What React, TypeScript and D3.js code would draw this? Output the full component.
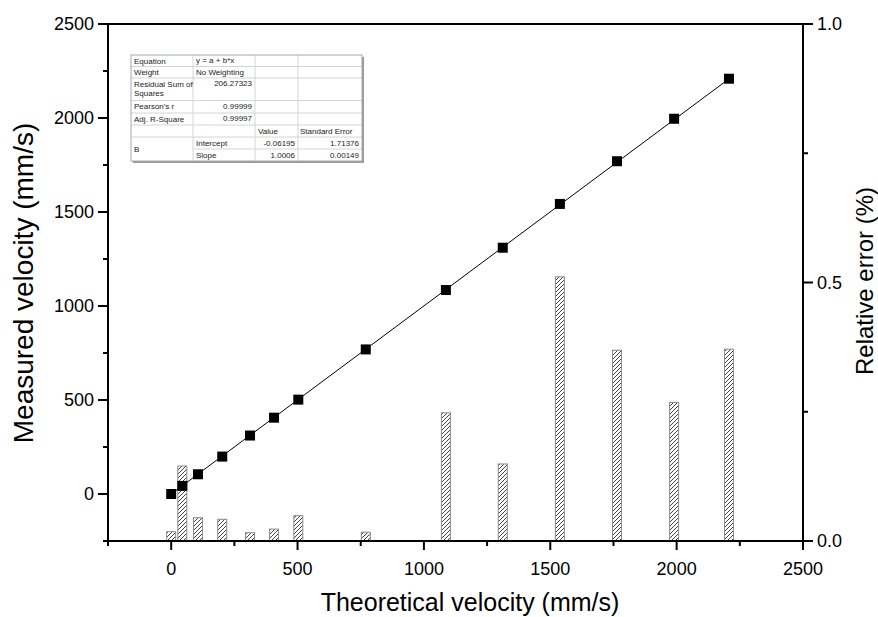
import React from 'react';
import * as d3 from 'd3';

// theoretical velocity (mm/s), measured velocity (mm/s), relative error (%)
const theoretical = [0, 44, 106, 202, 312, 407, 503, 770, 1087, 1312, 1538, 1764, 1990, 2207];
const measured = [0, 43, 105, 199, 311, 406, 502, 769, 1085, 1310, 1543, 1770, 1996, 2209];
const relError = [0.018, 0.145, 0.045, 0.042, 0.016, 0.023, 0.049, 0.017, 0.248, 0.149, 0.511, 0.369, 0.268, 0.371];

// linear fit y = a + b*x
const fitA = -0.06195;
const fitB = 1.0006;

const xTicks = [0, 500, 1000, 1500, 2000, 2500];
const yTicks = [0, 500, 1000, 1500, 2000, 2500];
const rTicks = [0, 0.5, 1.0];

// fit report table
const statRows = [
  ['Equation', 'y = a + b*x'],
  ['Weight', 'No Weighting'],
  ['Residual Sum of|Squares', '206.27323'],
  ["Pearson's r", '0.99999'],
  ['Adj. R-Square', '0.99997'],
];
const paramHeader = ['Value', 'Standard Error'];
const paramRows = [
  ['Intercept', '-0.06195', '1.71376'],
  ['Slope', '1.0006', '0.00149'],
];

const W = 878, H = 617;
const plot = { left: 108, right: 803, top: 24, bottom: 541 };

const x = d3.scaleLinear().domain([-250, 2500]).range([plot.left, plot.right]);
const y = d3.scaleLinear().domain([-250, 2500]).range([plot.bottom, plot.top]);
const yR = d3.scaleLinear().domain([0, 1]).range([plot.bottom, plot.top]);

const font = 'Liberation Sans, Arial, sans-serif';

const FitTable = () => {
  const cols = [131, 193, 255, 298, 362];
  const rows = [55, 66.5, 78, 100.5, 113, 125, 137, 149, 161];
  const fs = 8;
  const txt = '#222';
  const grid = '#d4d4d4';
  const cells: React.ReactNode[] = [];
  statRows.forEach((r, i) => {
    const top = rows[i];
    const lines = r[0].split('|');
    lines.forEach((l, j) => {
      cells.push(<text key={`l${i}${j}`} x={cols[0] + 3} y={top + 8.5 + j * 9.5} fontSize={fs} fill={txt}>{l}</text>);
    });
    const isNum = i >= 2;
    cells.push(<text key={`v${i}`} x={isNum ? cols[2] - 3 : cols[1] + 3} y={top + 8} fontSize={fs} fill={txt}
      textAnchor={isNum ? 'end' : 'start'}>{r[1]}</text>);
  });
  cells.push(<text key='h0' x={cols[2] + 3} y={rows[5] + 9} fontSize={fs} fill={txt}>{paramHeader[0]}</text>);
  cells.push(<text key='h1' x={cols[3] + 2} y={rows[5] + 9} fontSize={fs} fill={txt}>{paramHeader[1]}</text>);
  cells.push(<text key='b' x={cols[0] + 3} y={rows[7] + 3} fontSize={fs} fill={txt}>B</text>);
  paramRows.forEach((r, i) => {
    const top = rows[6 + i];
    cells.push(<text key={`p${i}`} x={cols[1] + 3} y={top + 9} fontSize={fs} fill={txt}>{r[0]}</text>);
    cells.push(<text key={`pv${i}`} x={cols[3] - 3} y={top + 9} fontSize={fs} fill={txt} textAnchor='end'>{r[1]}</text>);
    cells.push(<text key={`pe${i}`} x={cols[4] - 3} y={top + 9} fontSize={fs} fill={txt} textAnchor='end'>{r[2]}</text>);
  });
  const left = cols[0], right = cols[4], top = rows[0], bottom = rows[rows.length - 1];
  return <g fontFamily={font}>
    {/* shadow */}
    <rect x={left + 2} y={top + 2} width={right - left} height={bottom - top} fill='#9a9a9a' />
    <rect x={left} y={top} width={right - left} height={bottom - top} fill='#fff' />
    {rows.slice(1, -1).map((ry, i) => {
      // no line between Intercept and Slope in the first column
      const x1 = i === 6 ? cols[1] : left;
      return <line key={`r${i}`} x1={x1} x2={right} y1={ry} y2={ry} stroke={grid} strokeWidth={1} />;
    })}
    {cols.slice(1, -1).map((cx, i) =>
      <line key={`c${i}`} x1={cx} x2={cx} y1={top} y2={bottom} stroke={grid} strokeWidth={1} />)}
    <rect x={left} y={top} width={right - left} height={bottom - top} fill='none' stroke='#a8a8a8' strokeWidth={1} />
    {cells}
  </g>;
};

const App = () => {
  const barW = 9;
  const minorX = d3.range(-250, 2501, 250).filter(v => !xTicks.includes(v));
  const minorY = d3.range(-250, 2501, 250).filter(v => !yTicks.includes(v));
  const minorR = [0.25, 0.75];
  const xMin = d3.min(theoretical) as number, xMax = d3.max(theoretical) as number;
  const fitLine = d3.line<number>().x(v => x(v)).y(v => y(fitA + fitB * v));

  return <svg width={W} height={H} style={{ position: 'absolute', left: 0, top: 0, background: '#fff' }}>
    <defs>
      <pattern id='hatch' patternUnits='userSpaceOnUse' width={4} height={4}>
        <rect width={4} height={4} fill='#fff' />
        <path d='M-1,1 l2,-2 M0,4 l4,-4 M3,5 l2,-2' stroke='#111' strokeWidth={0.8} />
      </pattern>
    </defs>

    {/* relative error bars */}
    <g>
      {relError.map((e, i) => (
        <rect key={i} x={x(theoretical[i]) - barW / 2} y={yR(e)} width={barW} height={yR(0) - yR(e)}
          fill='url(#hatch)' stroke='#8a8a8a' strokeWidth={1} />
      ))}
    </g>

    {/* fit line */}
    <path d={fitLine([xMin, xMax]) || ''} stroke='#000' strokeWidth={1} fill='none' />

    {/* measured points */}
    <g>
      {theoretical.map((t, i) => (
        <rect key={i} x={x(t) - 5} y={y(measured[i]) - 5} width={10} height={10} fill='#000' />
      ))}
    </g>

    <FitTable />

    {/* axes frame */}
    <g stroke='#000' strokeWidth={2}>
      <line x1={plot.left} x2={plot.right} y1={plot.bottom} y2={plot.bottom} />
      <line x1={plot.left} x2={plot.right} y1={plot.top} y2={plot.top} />
      <line x1={plot.left} x2={plot.left} y1={plot.top} y2={plot.bottom} />
      <line x1={plot.right} x2={plot.right} y1={plot.top} y2={plot.bottom} />
    </g>

    {/* x axis */}
    <g fontFamily={font} fontSize={18}>
      {xTicks.map(v => <g key={v}>
        <line x1={x(v)} x2={x(v)} y1={plot.bottom} y2={plot.bottom + 9} stroke='#000' strokeWidth={2} />
        <text x={x(v)} y={plot.bottom + 34} textAnchor='middle' fill='#000'>{v}</text>
      </g>)}
      {minorX.map(v => <line key={v} x1={x(v)} x2={x(v)} y1={plot.bottom} y2={plot.bottom + 5} stroke='#000' strokeWidth={2} />)}
    </g>

    {/* left y axis */}
    <g fontFamily={font} fontSize={18}>
      {yTicks.map(v => <g key={v}>
        <line x1={plot.left - 10} x2={plot.left} y1={y(v)} y2={y(v)} stroke='#000' strokeWidth={2} />
        <text x={plot.left - 14} y={y(v)} dy='0.35em' textAnchor='end' fill='#000'>{v}</text>
      </g>)}
      {minorY.map(v => <line key={v} x1={plot.left - 5} x2={plot.left} y1={y(v)} y2={y(v)} stroke='#000' strokeWidth={2} />)}
    </g>

    {/* right y axis */}
    <g fontFamily={font} fontSize={18}>
      {rTicks.map(v => <g key={v}>
        <line x1={plot.right} x2={plot.right + 10} y1={yR(v)} y2={yR(v)} stroke='#000' strokeWidth={2} />
        <text x={plot.right + 14} y={yR(v)} dy='0.35em' fill='#000'>{v.toFixed(1)}</text>
      </g>)}
      {minorR.map(v => <line key={v} x1={plot.right} x2={plot.right + 5} y1={yR(v)} y2={yR(v)} stroke='#000' strokeWidth={2} />)}
    </g>

    {/* titles */}
    <g fontFamily={font} fill='#000'>
      <text x={470} y={611} textAnchor='middle' fontSize={25}>Theoretical velocity (mm/s)</text>
      <text transform={`translate(33, 283) rotate(-90)`} textAnchor='middle' fontSize={28}>Measured velocity (mm/s)</text>
      <text transform={`translate(873, 281) rotate(-90)`} textAnchor='middle' fontSize={24}>Relative error (%)</text>
    </g>
  </svg>;
};

export default App;
